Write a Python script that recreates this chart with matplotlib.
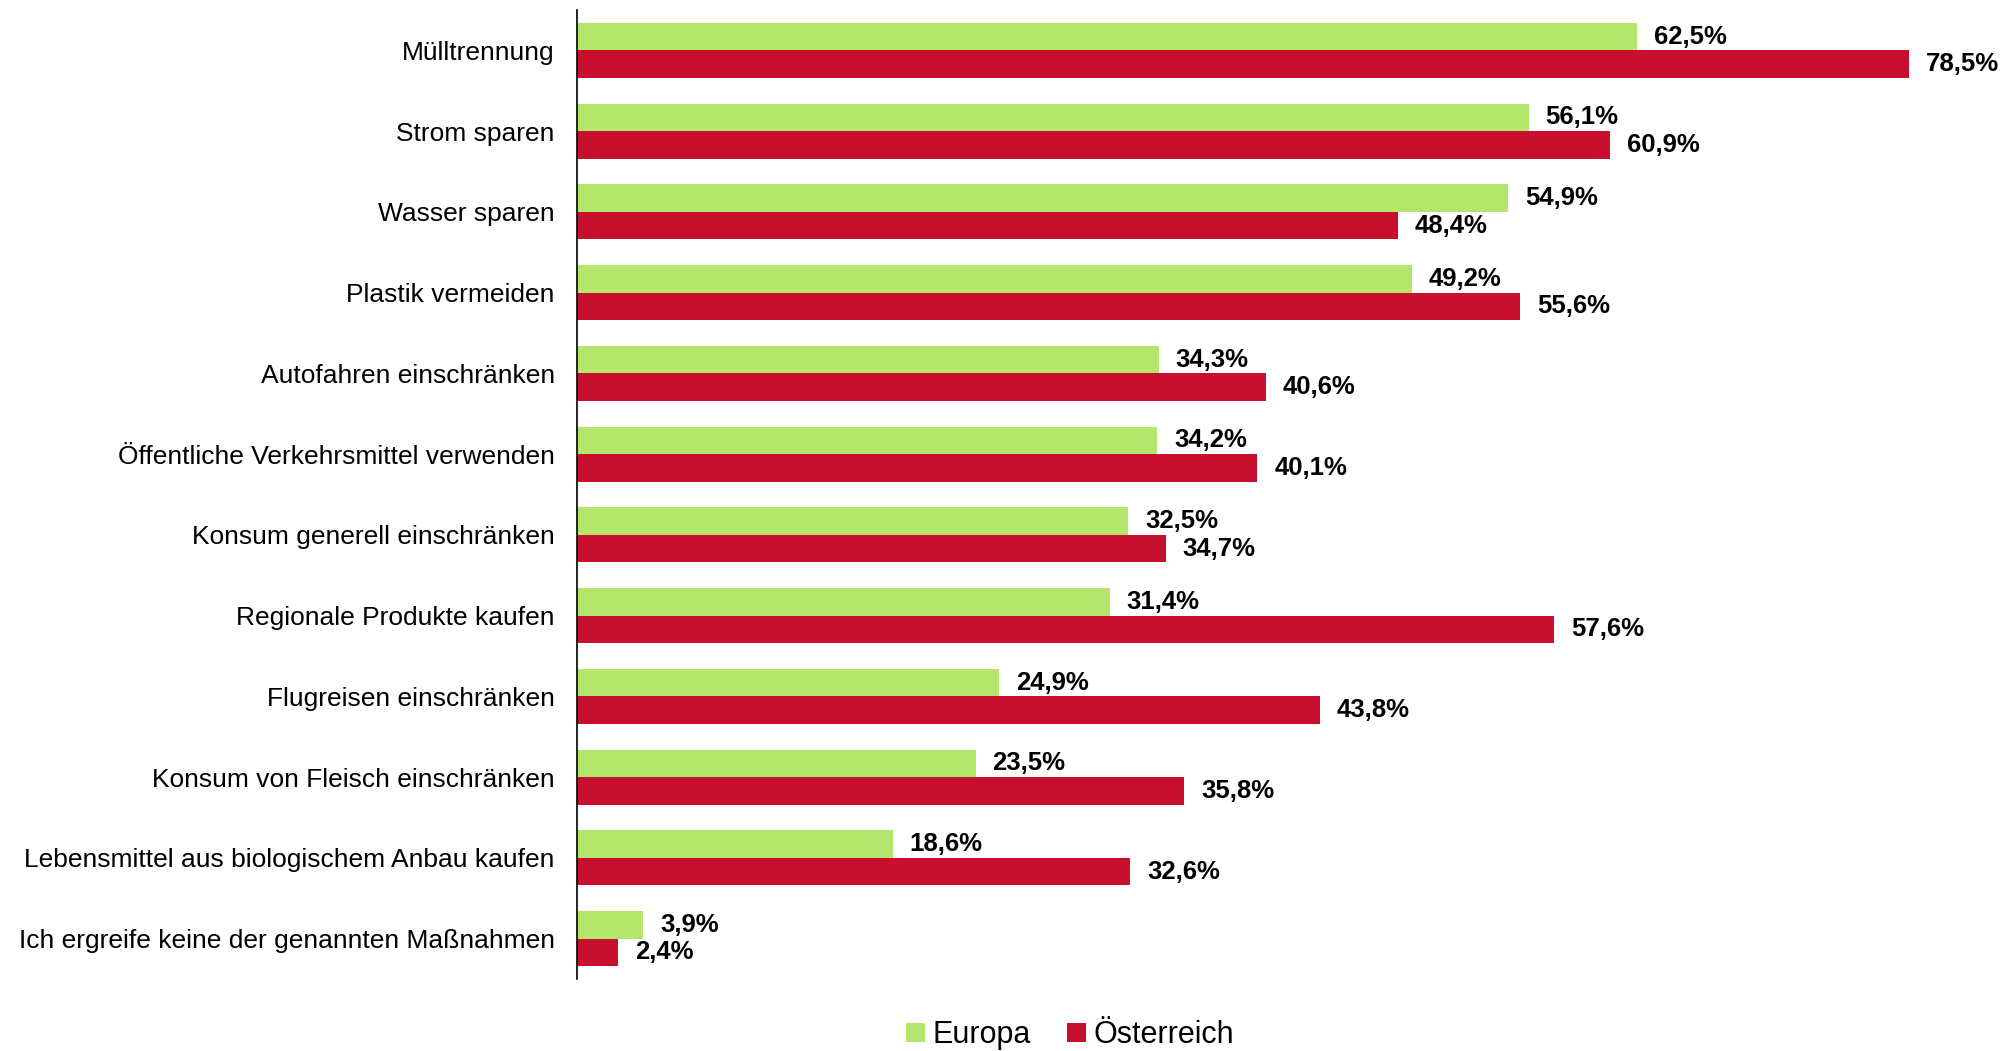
import matplotlib
matplotlib.use('Agg')
import matplotlib.pyplot as plt
import numpy as np

plt.rcParams['font.family'] = ['Liberation Sans', 'DejaVu Sans']

categories = ['Mülltrennung', 'Strom sparen', 'Wasser sparen', 'Plastik vermeiden',
              'Autofahren einschränken', 'Öffentliche Verkehrsmittel verwenden',
              'Konsum generell einschränken', 'Regionale Produkte kaufen',
              'Flugreisen einschränken', 'Konsum von Fleisch einschränken',
              'Lebensmittel aus biologischem Anbau kaufen',
              'Ich ergreife keine der genannten Maßnahmen']
europa = [62.5, 56.1, 54.9, 49.2, 34.3, 34.2, 32.5, 31.4, 24.9, 23.5, 18.6, 3.9]
oesterreich = [78.5, 60.9, 48.4, 55.6, 40.6, 40.1, 34.7, 57.6, 43.8, 35.8, 32.6, 2.4]

green = '#B3E66B'
red = '#C8102E'

fig = plt.figure(figsize=(20.11, 10.51), dpi=100)
ax = fig.add_axes([577 / 2011, 1 - 979 / 1051, (1934 - 577) / 2011, (979 - 10) / 1051])

y = np.arange(len(categories))
h = 0.34
ax.barh(y - h / 2, europa, height=h, color=green, label='Europa')
ax.barh(y + h / 2, oesterreich, height=h, color=red, label='Österreich')

fmt = lambda v: f'{v:.1f}%'.replace('.', ',')
for yi, e, o in zip(y, europa, oesterreich):
    ax.text(e + 1.0, yi - h / 2, fmt(e), va='center', ha='left', fontsize=18.5,
            fontweight='bold', clip_on=False)
    ax.text(o + 1.0, yi + h / 2, fmt(o), va='center', ha='left', fontsize=18.5,
            fontweight='bold', clip_on=False)

ax.set_xlim(0, 80)
ax.set_ylim(len(categories) - 0.5, -0.5)
ax.set_yticks(y)
ax.set_yticklabels(categories, fontsize=19)
ax.tick_params(axis='y', length=0, pad=16)
ax.set_xticks([])
for s in ['top', 'right', 'bottom']:
    ax.spines[s].set_visible(False)
ax.spines['left'].set_linewidth(1.2)

fig.legend(loc='center', bbox_to_anchor=(1070 / 2011, 1 - 1035 / 1051), ncol=2,
           frameon=False, fontsize=22, handlelength=0.6, handleheight=0.6,
           handletextpad=0.25, columnspacing=1.2)

fig.savefig('out.png', dpi=100)
